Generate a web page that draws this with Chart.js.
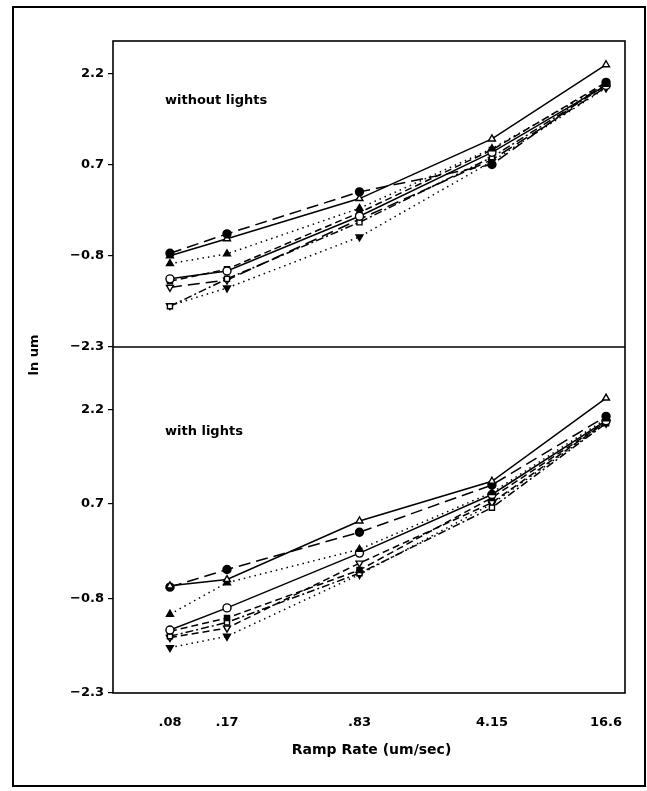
<!DOCTYPE html>
<html>
<head>
<meta charset="utf-8">
<script src="https://cdn.jsdelivr.net/npm/chart.js@4/dist/chart.umd.min.js"></script>
<style>
  body { margin: 0; background: #fff; }
  .page { position: relative; width: 647px; height: 791px; }
  .frame { position: absolute; left: 12px; top: 6px; width: 630px; height: 777px; border: 2px solid #000; }
  #myChart { position: absolute; left: 0; top: 0; }
</style>
</head>
<body>
<div class="page">
  <div class="frame"></div>
  <canvas id="myChart" width="647" height="791"></canvas>
</div>
<script>
var rates = [0.083, 0.166, 0.83, 4.15, 16.6];
var rateLabels = ['.08', '.17', '.83', '4.15', '16.6'];
var yTicks = [-2.3, -0.8, 0.7, 2.2];

// without lights (top panel)
var offCircle     = [-0.76, -0.44, 0.25, 0.70, 2.05];
var offTriOpen    = [-0.80, -0.52, 0.14, 1.12, 2.34];
var offTri        = [-0.93, -0.77, -0.02, 0.96, 2.02];
var offCircleOpen = [-1.18, -1.05, -0.15, 0.90, 2.00];
var offSquare     = [-1.22, -1.02, -0.09, 0.94, 2.05];
var offSquareOpen = [-1.63, -1.18, -0.25, 0.82, 2.00];
var offDownOpen   = [-1.32, -1.20, -0.20, 0.78, 1.97];
var offDown       = [-1.62, -1.33, -0.49, 0.75, 1.96];

// with lights (bottom panel)
var onTriOpen     = [-0.60, -0.50, 0.43, 1.06, 2.38];
var onCircle      = [-0.62, -0.34, 0.25, 1.00, 2.09];
var onTri         = [-1.05, -0.55, -0.02, 0.88, 2.05];
var onCircleOpen  = [-1.30, -0.95, -0.08, 0.85, 2.02];
var onSquare      = [-1.32, -1.11, -0.35, 0.80, 2.00];
var onSquareOpen  = [-1.40, -1.18, -0.40, 0.64, 1.98];
var onDownOpen    = [-1.42, -1.27, -0.24, 0.72, 2.00];
var onDown        = [-1.58, -1.40, -0.42, 0.70, 1.98];

var FONT = 'DejaVu Sans';

function points(values) {
  return values.map(function(v, i) { return {x: rates[i], y: v}; });
}

function series(values, axis, shape, open, dash, down) {
  return {
    data: points(values),
    yAxisID: axis,
    borderColor: '#000',
    borderWidth: 1.5,
    borderDash: dash,
    pointStyle: shape,
    pointRotation: down ? 180 : 0,
    pointRadius: shape == 'rect' ? 3.6 : 4,
    pointBorderWidth: 1.4,
    pointBorderColor: '#000',
    pointBackgroundColor: open ? '#fff' : '#000',
    fill: false,
    tension: 0
  };
}

var SOLID = [], DASH = [7, 4], LONG = [12, 6], DOT = [1.5, 4], DASHDOT = [8, 3, 2, 3];

var datasets = [
  series(offCircle, 'yHigh', 'circle', false, LONG),
  series(offTriOpen, 'yHigh', 'triangle', true, SOLID),
  series(offTri, 'yHigh', 'triangle', false, DOT),
  series(offCircleOpen, 'yHigh', 'circle', true, SOLID),
  series(offSquare, 'yHigh', 'rect', false, DASH),
  series(offSquareOpen, 'yHigh', 'rect', true, DASHDOT),
  series(offDownOpen, 'yHigh', 'triangle', true, LONG, true),
  series(offDown, 'yHigh', 'triangle', false, DOT, true),

  series(onTriOpen, 'yLow', 'triangle', true, SOLID),
  series(onCircle, 'yLow', 'circle', false, LONG),
  series(onTri, 'yLow', 'triangle', false, DOT),
  series(onCircleOpen, 'yLow', 'circle', true, SOLID),
  series(onSquare, 'yLow', 'rect', false, DASH),
  series(onSquareOpen, 'yLow', 'rect', true, DASHDOT),
  series(onDownOpen, 'yLow', 'triangle', true, DASH, true),
  series(onDown, 'yLow', 'triangle', false, DOT, true)
];

function yAxis(max, weight) {
  return {
    type: 'linear',
    position: 'left',
    stack: 'panels',
    stackWeight: weight,
    min: -2.3,
    max: max,
    border: { display: false },
    grid: { drawOnChartArea: false, color: '#000', tickLength: 5, lineWidth: 1.2 },
    afterBuildTicks: function(scale) {
      scale.ticks = yTicks.map(function(v) { return {value: v}; });
    },
    afterFit: function(scale) { scale.width = 113; },
    ticks: {
      color: '#000',
      padding: 4,
      font: { family: FONT, size: 13, weight: 'bold' },
      callback: function(v) { return v.toFixed(1).replace('-', '\u2212'); }
    }
  };
}

// frame, middle divider and the free texts
var extras = {
  id: 'extras',
  afterDraw: function(chart) {
    var ctx = chart.ctx, a = chart.chartArea;
    var hi = chart.scales.yHigh, lo = chart.scales.yLow, x = chart.scales.x;
    ctx.save();
    ctx.strokeStyle = '#000';
    ctx.lineWidth = 1.6;
    ctx.strokeRect(a.left, a.top, a.right - a.left, a.bottom - a.top);
    ctx.beginPath();
    ctx.moveTo(a.left, hi.bottom);
    ctx.lineTo(a.right, hi.bottom);
    ctx.stroke();

    ctx.fillStyle = '#000';
    ctx.font = 'bold 13px ' + FONT;
    ctx.textBaseline = 'middle';
    ctx.textAlign = 'left';
    ctx.fillText('without lights', a.left + 52, hi.getPixelForValue(1.75));
    ctx.fillText('with lights', a.left + 52, lo.getPixelForValue(1.85));

    ctx.textAlign = 'center';
    ctx.font = 'bold 14px ' + FONT;
    ctx.fillText('Ramp Rate (um/sec)', (a.left + x.getPixelForValue(16.6)) / 2 + 12, 750);

    ctx.font = 'bold 13px ' + FONT;
    ctx.translate(35, hi.bottom + 8);
    ctx.rotate(-Math.PI / 2);
    ctx.fillText('ln um', 0, 0);
    ctx.restore();
  }
};

var ctx = document.getElementById('myChart').getContext('2d');
var myChart = new Chart(ctx, {
  type: 'line',
  data: { datasets: datasets },
  plugins: [extras],
  options: {
    responsive: false,
    animation: false,
    devicePixelRatio: 1,
    layout: { padding: { top: 41, right: 22, left: 0, bottom: 0 } },
    plugins: { legend: { display: false }, tooltip: { enabled: false } },
    scales: {
      x: {
        type: 'logarithmic',
        min: 0.04155,
        max: 20.9,
        border: { display: false },
        grid: { display: false, drawTicks: false },
        afterBuildTicks: function(scale) {
          scale.ticks = rates.map(function(v) { return {value: v}; });
        },
        afterFit: function(scale) { scale.height = 98; },
        ticks: {
          color: '#000',
          padding: 22,
          autoSkip: false,
          maxRotation: 0,
          font: { family: FONT, size: 13, weight: 'bold' },
          callback: function(v, i) { return rateLabels[i]; }
        }
      },
      yLow: yAxis(3.19, 346),
      yHigh: yAxis(2.73, 306)
    }
  }
});
</script>
</body>
</html>
